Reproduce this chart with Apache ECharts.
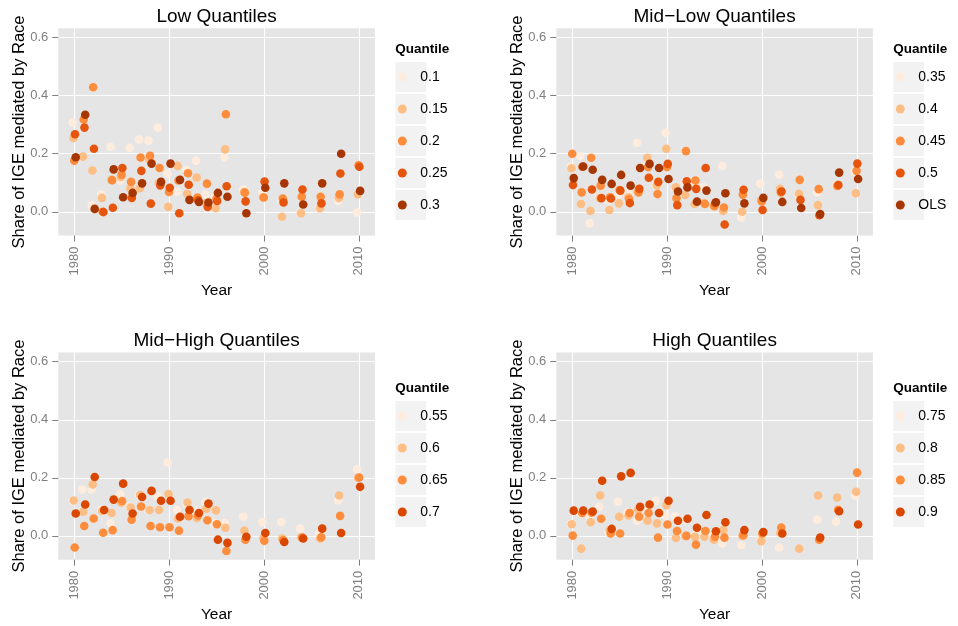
<!DOCTYPE html>
<html><head><meta charset="utf-8">
<script src="https://cdn.jsdelivr.net/npm/echarts@6/dist/echarts.min.js"></script>
<style>html,body{margin:0;padding:0;background:#fff}#c{width:958px;height:626px}</style>
</head><body><div id="c"></div>
<script>
// ---------------- data ----------------
const years = [1980,1981,1982,1983,1984,1985,1986,1987,1988,1989,1990,1991,1992,1993,1994,1995,1996,1998,2000,2002,2004,2006,2008,2010];
const xTicks = [1980,1990,2000,2010];
const xMinorTicks = [1985,1995,2005];
const yTicks = [0,0.2,0.4,0.6];
const yMinorTicks = [0.1,0.3,0.5];

const panelTitles = ['Low Quantiles','Mid\u2212Low Quantiles','Mid\u2212High Quantiles','High Quantiles'];
const legendTitle = 'Quantile';
const yTitle = 'Share of IGE mediated by Race';
const xTitle = 'Year';

const lowNames = ['0.1','0.15','0.2','0.25','0.3'];
const low_q010 = [0.307,0.19,0.023,0.059,0.224,0.107,0.22,0.249,0.245,0.29,0.131,0.069,0.145,0.176,0.059,0.05,0.187,0.077,0.066,0.04,-0.005,0.01,0.037,-0.002];
const low_q015 = [0.254,0.19,0.142,0.048,0.11,0.12,0.08,0.081,0.18,0.1,0.017,0.158,0.062,0.118,0.03,0.012,0.215,0.068,0.05,-0.017,-0.005,0.012,0.048,0.06];
const low_q020 = [0.176,0.318,0.429,0.0,0.109,0.128,0.103,0.187,0.193,0.151,0.068,0.108,0.133,0.049,0.097,0.045,0.336,0.066,0.049,0.046,0.052,0.052,0.06,0.16];
const low_q025 = [0.267,0.29,0.217,-0.001,0.014,0.151,0.048,0.141,0.028,0.091,0.083,-0.005,0.093,0.04,0.017,0.037,0.088,0.036,0.104,0.032,0.077,0.029,0.132,0.155];
const low_q030 = [0.188,0.334,0.010,null,0.146,0.05,0.065,0.098,0.166,0.103,0.166,0.11,0.041,0.034,0.032,0.065,0.052,-0.005,0.083,0.098,0.025,0.098,0.2,0.072];

const midLowNames = ['0.35','0.4','0.45','0.5','OLS'];
const ml_q035 = [0.155,0.192,-0.039,0.05,0.04,0.06,0.067,0.238,0.16,0.09,0.272,0.08,0.1,0.1,0.084,0.02,0.158,-0.02,0.097,0.128,0.06,0.067,0.09,0.14];
const ml_q040 = [0.15,0.027,0.003,0.047,0.006,0.029,0.05,0.07,0.186,0.091,0.217,0.084,0.058,0.027,0.03,0.02,0.003,0.0,0.04,0.079,0.062,0.023,0.088,0.064];
const ml_q045 = [0.2,0.067,0.186,0.09,0.05,0.075,0.044,0.067,0.154,0.061,0.154,0.047,0.209,0.108,0.027,0.019,0.015,0.059,0.036,0.067,0.11,0.078,0.09,0.141];
const ml_q050 = [0.092,0.155,0.077,0.047,0.046,0.073,0.03,0.079,0.117,0.103,0.165,0.023,0.105,0.079,0.151,0.03,-0.044,0.076,0.006,0.07,0.041,-0.012,0.092,0.166];
const ml_ols  = [0.116,0.156,0.145,0.11,0.096,0.127,0.09,0.151,0.165,0.151,0.113,0.07,0.084,0.035,0.073,0.033,0.064,0.029,0.048,0.034,0.013,-0.008,0.135,0.113];

const midHighNames = ['0.55','0.6','0.65','0.7'];
const mh_q055 = [0.12,0.16,0.16,0.09,0.043,0.143,0.1,0.14,0.09,0.137,0.253,0.089,0.11,0.086,0.117,0.043,0.045,0.066,0.048,0.048,0.025,0.008,0.123,0.229];
const mh_q060 = [0.122,0.083,0.177,0.086,0.079,0.114,0.098,0.141,0.089,0.089,0.144,0.06,0.115,0.062,0.094,0.088,0.028,0.018,-0.007,-0.009,-0.005,-0.009,0.139,0.2];
const mh_q065 = [-0.04,0.034,0.06,0.011,0.02,0.12,0.056,0.101,0.034,0.03,0.03,0.018,0.068,0.07,0.054,0.04,-0.052,-0.013,-0.017,-0.015,-0.006,-0.005,0.069,0.201];
const mh_q070 = [0.077,0.108,0.203,0.089,0.125,0.18,0.077,0.134,0.155,0.121,0.121,0.066,0.089,0.079,0.111,-0.013,-0.024,-0.003,0.01,-0.021,-0.009,0.025,0.01,0.169];

const highNames = ['0.75','0.8','0.85','0.9'];
const hi_q075 = [0.041,0.08,0.068,0.1,0.01,0.118,0.08,0.052,0.1,0.121,0.071,0.068,0.055,0.0,0.01,0.0,-0.026,-0.032,-0.01,-0.04,null,0.056,0.049,0.139];
const hi_q080 = [0.04,-0.044,0.047,0.139,0.02,0.066,0.07,0.09,0.052,0.043,0.106,-0.007,0.0,-0.003,-0.003,-0.013,0.02,0.0,-0.018,0.01,-0.044,0.139,0.132,0.152];
const hi_q085 = [0.001,0.079,0.08,0.059,0.008,0.008,0.079,0.066,0.079,-0.006,0.039,0.017,0.0,-0.03,0.017,-0.003,-0.006,0.002,0.008,0.029,null,-0.013,0.09,0.218];
const hi_q090 = [0.087,0.087,0.084,0.19,0.024,0.205,0.217,0.1,0.108,0.079,0.121,0.052,0.059,0.028,0.072,0.016,0.047,0.02,0.013,0.008,null,-0.006,0.085,0.039];

// ---------------- styles / layout ----------------
const pal5 = ['#FEEDDE','#FDBE85','#FD8D3C','#E6550D','#A63603'];
const pal4 = ['#FEEDDE','#FDBE85','#FD8D3C','#D94701'];
const FF = '"Liberation Sans", Arial, Helvetica, sans-serif';
const X_MIN = 1978.3, X_MAX = 2011.7, Y_MIN = -0.082, Y_MAX = 0.632;
const GW = 316.6, GH = 207.3;
const gridPos = [[58.3,28.3],[556.3,28.3],[58.3,352.4],[556.3,352.4]];
const DODGE_SPAN = 0.32, DODGE_START = -0.18;

const panels = [
  {names: lowNames, values: [low_q010,low_q015,low_q020,low_q025,low_q030], colors: pal5},
  {names: midLowNames, values: [ml_q035,ml_q040,ml_q045,ml_q050,ml_ols], colors: pal5},
  {names: midHighNames, values: [mh_q055,mh_q060,mh_q065,mh_q070], colors: pal4},
  {names: highNames, values: [hi_q075,hi_q080,hi_q085,hi_q090], colors: pal4}
];

const grid = [], xAxis = [], yAxis = [], series = [], legend = [], graphic = [];

panels.forEach((p, pi) => {
  const [gl, gt] = gridPos[pi];
  grid.push({left: gl, top: gt, width: GW, height: GH, show: true, backgroundColor: '#E5E5E5',
             borderWidth: 0, containLabel: false, outerBoundsMode: 'none'});
  // main axes
  xAxis.push({
    type: 'value', gridIndex: pi, min: X_MIN, max: X_MAX, position: 'bottom',
    name: xTitle, nameLocation: 'middle', nameGap: 47, nameMoveOverlap: false,
    nameTextStyle: {fontSize: 15.5, color: '#000', fontFamily: FF},
    axisLine: {show: false, onZero: false},
    axisTick: {show: true, length: 6, customValues: xTicks, lineStyle: {color: '#7F7F7F', width: 1}},
    axisLabel: {show: true, customValues: xTicks, rotate: 90, margin: 11, fontSize: 13, color: '#7F7F7F',
                fontFamily: FF, formatter: v => String(Math.round(v))},
    splitLine: {show: true, lineStyle: {color: '#FFFFFF', width: 1.1}}
  });
  yAxis.push({
    type: 'value', gridIndex: pi, min: Y_MIN, max: Y_MAX, position: 'left',
    name: yTitle, nameLocation: 'middle', nameGap: 30.5, nameRotate: 90, nameMoveOverlap: false,
    nameTextStyle: {fontSize: 16.5, color: '#000', fontFamily: FF},
    axisLine: {show: false, onZero: false},
    axisTick: {show: true, length: 6, customValues: yTicks, lineStyle: {color: '#7F7F7F', width: 1}},
    axisLabel: {show: true, customValues: yTicks, margin: 10, fontSize: 13, color: '#7F7F7F',
                fontFamily: FF, formatter: v => v.toFixed(1)},
    splitLine: {show: true, lineStyle: {color: '#FFFFFF', width: 1.1}}
  });
  // minor grid axes
  xAxis.push({
    type: 'value', gridIndex: pi, min: X_MIN, max: X_MAX, position: 'top',
    axisLine: {show: false, onZero: false}, axisLabel: {show: false},
    axisTick: {show: false, customValues: xMinorTicks},
    splitLine: {show: true, lineStyle: {color: '#F2F2F2', width: 0.6}}, z: -1
  });
  yAxis.push({
    type: 'value', gridIndex: pi, min: Y_MIN, max: Y_MAX, position: 'right',
    axisLine: {show: false, onZero: false}, axisLabel: {show: false},
    axisTick: {show: false, customValues: yMinorTicks},
    splitLine: {show: true, lineStyle: {color: '#F2F2F2', width: 0.6}}, z: -1
  });

  const n = p.names.length;
  p.names.forEach((name, k) => {
    const off = DODGE_START + k * DODGE_SPAN / (n - 1);
    const data = [];
    years.forEach((yr, i) => { const v = p.values[k][i]; if (v !== null && v !== undefined) data.push([yr + off, v]); });
    series.push({
      type: 'scatter', name: name, xAxisIndex: pi * 2, yAxisIndex: pi * 2,
      symbol: 'circle', symbolSize: 8.6, data: data,
      itemStyle: {color: p.colors[k], opacity: 1},
      emphasis: {disabled: true}, z: 3
    });
  });

  // legend
  const iconCx = gl + GW + 35.9;
  const firstCy = gt + (n === 5 ? 48.7 : 63.6);
  legend.push({
    orient: 'vertical', left: iconCx - 13, top: firstCy - 16, padding: 0, itemGap: 0,
    itemWidth: 26, itemHeight: 9, icon: 'circle', data: p.names, z: 5,
    textStyle: {fontSize: 14, color: '#000', fontFamily: FF, lineHeight: 32}
  });
  for (let k = 0; k < n; k++) {
    graphic.push({type: 'rect', z: 1, silent: true,
      shape: {x: iconCx - 15.4, y: firstCy + 32 * k - 15, width: 30.8, height: 30},
      style: {fill: '#F2F2F2'}});
  }
  graphic.push({type: 'text', z: 5, silent: true, x: iconCx - 15.6, y: firstCy - 28,
    style: {text: legendTitle, font: 'bold 13.5px ' + FF, fill: '#000',
            textAlign: 'left', textVerticalAlign: 'middle', align: 'left', verticalAlign: 'middle'}});
  graphic.push({type: 'text', z: 5, silent: true, x: gl + GW / 2, y: gt - 11.5,
    style: {text: panelTitles[pi], font: '19px ' + FF, fill: '#000',
            textAlign: 'center', textVerticalAlign: 'middle', align: 'center', verticalAlign: 'middle'}});
});

const chart = echarts.init(document.getElementById('c'), null, {renderer: 'canvas'});
chart.setOption({
  animation: false,
  backgroundColor: '#FFFFFF',
  textStyle: {fontFamily: FF},
  grid, xAxis, yAxis, series, legend, graphic,
  tooltip: {show: false}
});
</script>
</body></html>
